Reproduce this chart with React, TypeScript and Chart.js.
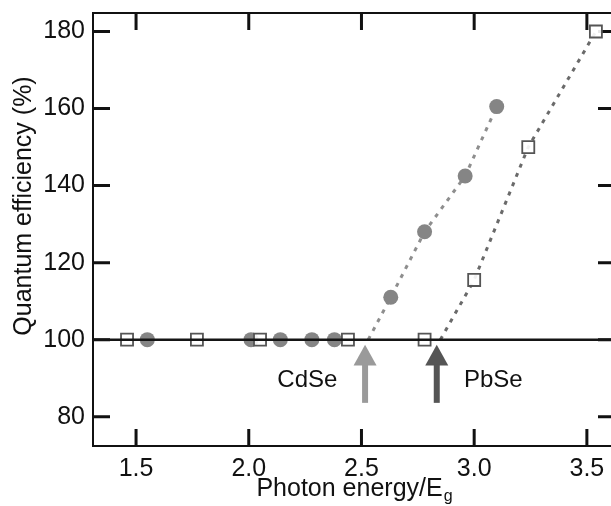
import React, { useEffect, useRef } from "react";
import { Chart, registerables } from "chart.js";

Chart.register(...registerables);

// ---- data ----
const cdseX = [1.55, 2.01, 2.14, 2.28, 2.38, 2.63, 2.78, 2.96, 3.1];
const cdseY = [100, 100, 100, 100, 100, 111, 128, 142.5, 160.5];
const pbseX = [1.46, 1.77, 2.05, 2.44, 2.78, 3.0, 3.24, 3.54];
const pbseY = [100, 100, 100, 100, 100, 115.5, 150, 180];
const onsetX = [2.53, 2.85]; // where dotted fits leave 100 %
const arrowX = [2.516, 2.834];
const arrowLabels = ["CdSe", "PbSe"];
const arrowLabelX = [2.26, 3.085];
const xTicks = [1.5, 2.0, 2.5, 3.0, 3.5];
const yTicks = [80, 100, 120, 140, 160, 180];
const refLineY = 100;
const X_MIN = 1.309;
const X_MAX = 3.607;
const Y_MIN = 72.4;
const Y_MAX = 184.8;

const FONT = "'Liberation Sans', Arial, Helvetica, sans-serif";

const framePlugin = {
  id: "frame",
  beforeDatasetsDraw(chart: any) {
    const { ctx, chartArea } = chart;
    const xs = chart.scales.x;
    const ys = chart.scales.y;
    const { left, right, top, bottom } = chartArea;
    const TL = 17;
    ctx.save();
    ctx.strokeStyle = "#111";
    ctx.lineWidth = 2;
    ctx.beginPath();
    ctx.moveTo(right + 5, top);
    ctx.lineTo(left, top);
    ctx.lineTo(left, bottom);
    ctx.lineTo(right + 5, bottom);
    ctx.stroke();
    ctx.lineWidth = 3;
    ctx.beginPath();
    xTicks.forEach((v) => {
      const px = xs.getPixelForValue(v);
      ctx.moveTo(px, bottom);
      ctx.lineTo(px, bottom - TL);
      ctx.moveTo(px, top);
      ctx.lineTo(px, top + TL);
    });
    yTicks.forEach((v) => {
      const py = ys.getPixelForValue(v);
      ctx.moveTo(left, py);
      ctx.lineTo(left + TL, py);
      ctx.moveTo(right, py);
      ctx.lineTo(right - 13, py);
    });
    ctx.stroke();
    ctx.restore();
  },
  afterDraw(chart: any) {
    const { ctx } = chart;
    const xs = chart.scales.x;
    const ys = chart.scales.y;
    ctx.save();
    // arrows
    const colors = ["#9a9a9a", "#555555"];
    arrowX.forEach((v, i) => {
      const px = xs.getPixelForValue(v);
      const tip = ys.getPixelForValue(98.7);
      const base = ys.getPixelForValue(93.3);
      const end = ys.getPixelForValue(83.6);
      ctx.fillStyle = colors[i];
      ctx.beginPath();
      ctx.moveTo(px, tip);
      ctx.lineTo(px + 11.5, base);
      ctx.lineTo(px - 11.5, base);
      ctx.closePath();
      ctx.fill();
      ctx.fillRect(px - 3, base - 1, 6, end - base + 1);
    });
    // arrow labels
    ctx.fillStyle = "#111";
    ctx.font = `24px ${FONT}`;
    ctx.textBaseline = "middle";
    ctx.textAlign = "center";
    const ly = ys.getPixelForValue(89.5);
    arrowLabels.forEach((t, i) => ctx.fillText(t, xs.getPixelForValue(arrowLabelX[i]), ly));
    // y title
    ctx.save();
    ctx.translate(24, 206);
    ctx.rotate(-Math.PI / 2);
    ctx.font = `25px ${FONT}`;
    ctx.textAlign = "center";
    ctx.textBaseline = "middle";
    ctx.fillText("Quantum efficiency (%)", 0, 0);
    ctx.restore();
    // x title with subscript
    ctx.font = `25px ${FONT}`;
    const main = "Photon energy/E";
    const wMain = ctx.measureText(main).width;
    ctx.font = `16px ${FONT}`;
    const wSub = ctx.measureText("g").width;
    const total = wMain + wSub;
    const cx = 354;
    const x0 = cx - total / 2;
    ctx.textAlign = "left";
    ctx.textBaseline = "alphabetic";
    ctx.font = `25px ${FONT}`;
    ctx.fillText(main, x0, 496);
    ctx.font = `16px ${FONT}`;
    ctx.fillText("g", x0 + wMain + 1, 501);
    ctx.restore();
  },
};

export default function App() {
  const ref = useRef<HTMLCanvasElement | null>(null);
  useEffect(() => {
    if (!ref.current) return;
    const cdsePts = cdseX.map((x, i) => ({ x, y: cdseY[i] }));
    const pbsePts = pbseX.map((x, i) => ({ x, y: pbseY[i] }));
    const cdseFit = [{ x: onsetX[0], y: refLineY }, ...cdsePts.filter((p) => p.y > refLineY)];
    const pbseFit = [{ x: onsetX[1], y: refLineY }, ...pbsePts.filter((p) => p.y > refLineY)];
    const chart = new Chart(ref.current, {
      type: "scatter",
      data: {
        datasets: [
          {
            label: "ref",
            data: [
              { x: X_MIN, y: refLineY },
              { x: X_MAX, y: refLineY },
            ],
            showLine: true,
            borderColor: "#151515",
            borderWidth: 2.5,
            pointRadius: 0,
            order: 0,
          },
          {
            label: "CdSe fit",
            data: cdseFit,
            showLine: true,
            borderColor: "#8e8e8e",
            borderWidth: 3,
            borderDash: [4, 6],
            pointRadius: 0,
            order: 3,
          },
          {
            label: "PbSe fit",
            data: pbseFit,
            showLine: true,
            borderColor: "#6a6a6a",
            borderWidth: 3,
            borderDash: [4, 6],
            pointRadius: 0,
            order: 3,
          },
          {
            label: "CdSe",
            data: cdsePts,
            pointStyle: "circle",
            pointRadius: 7.5,
            backgroundColor: "#858585",
            borderColor: "#858585",
            borderWidth: 0,
            order: 2,
          },
          {
            label: "PbSe",
            data: pbsePts,
            pointStyle: "rect",
            pointRadius: 8.5,
            backgroundColor: "rgba(255,255,255,0.9)",
            borderColor: "#555",
            borderWidth: 1.8,
            order: 1,
          },
        ],
      },
      options: {
        animation: false,
        responsive: false,
        events: [],
        layout: { autoPadding: false, padding: { top: 13, right: 0, left: 0, bottom: 0 } },
        plugins: { legend: { display: false }, tooltip: { enabled: false } },
        scales: {
          x: {
            type: "linear",
            min: X_MIN,
            max: X_MAX,
            grid: { display: false, drawTicks: false },
            border: { display: false },
            afterBuildTicks: (s: any) => {
              s.ticks = xTicks.map((v) => ({ value: v }));
            },
            afterFit: (s: any) => {
              s.height = 60;
              s.paddingLeft = 0;
              s.paddingRight = 0;
            },
            ticks: {
              padding: 8,
              color: "#111",
              font: { family: FONT, size: 25 },
              callback: (v: any) => Number(v).toFixed(1),
              maxRotation: 0,
              autoSkip: false,
            },
          },
          y: {
            type: "linear",
            min: Y_MIN,
            max: Y_MAX,
            grid: { display: false, drawTicks: false },
            border: { display: false },
            afterBuildTicks: (s: any) => {
              s.ticks = yTicks.map((v) => ({ value: v }));
            },
            afterFit: (s: any) => {
              s.width = 93;
              s.paddingTop = 0;
              s.paddingBottom = 0;
            },
            ticks: {
              padding: 8,
              color: "#111",
              font: { family: FONT, size: 25 },
              autoSkip: false,
            },
          },
        },
      },
      plugins: [framePlugin],
    } as any);
    return () => chart.destroy();
  }, []);
  return (
    <div style={{ position: "absolute", left: 0, top: 0, width: 611, height: 506, background: "#fff" }}>
      <canvas ref={ref} width={611} height={506} style={{ display: "block" }} />
    </div>
  );
}
